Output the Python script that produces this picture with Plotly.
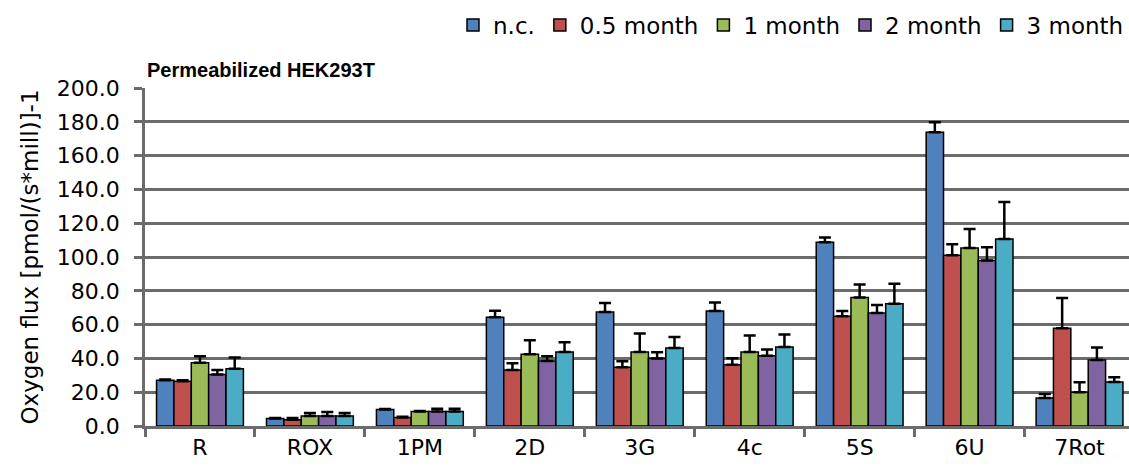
import plotly.graph_objects as go

categories = ["R", "ROX", "1PM", "2D", "3G", "4c", "5S", "6U", "7Rot"]
series_names = ["n.c.", "0.5 month", "1 month", "2 month", "3 month"]

nc = [27.1, 4.4, 9.7, 64.3, 67.5, 68.1, 108.8, 173.8, 16.6]
nc_err = [0.4, 0.4, 0.4, 3.9, 5.3, 5.0, 2.8, 5.9, 2.4]
m05 = [26.5, 3.7, 5.1, 33.2, 34.7, 36.2, 64.9, 101.1, 57.8]
m05_err = [0.5, 1.1, 0.4, 3.9, 3.6, 3.9, 3.1, 6.5, 17.9]
m1 = [37.5, 5.9, 8.6, 42.4, 43.8, 43.8, 76.1, 105.3, 20.0]
m1_err = [3.8, 1.8, 0.3, 8.3, 10.9, 9.7, 7.7, 11.2, 5.9]
m2 = [30.5, 5.9, 8.6, 38.5, 39.9, 41.5, 66.9, 98.0, 39.1]
m2_err = [2.7, 2.4, 1.6, 2.7, 3.7, 3.7, 4.7, 7.7, 7.3]
m3 = [33.9, 5.9, 8.6, 43.8, 46.2, 46.8, 72.4, 110.6, 26.1]
m3_err = [6.7, 1.8, 1.6, 5.7, 6.5, 7.3, 11.8, 22.0, 2.7]

colors = ["#4F81BD", "#C0504D", "#9BBB59", "#8064A2", "#4BACC6"]
values = [nc, m05, m1, m2, m3]
errors = [nc_err, m05_err, m1_err, m2_err, m3_err]

fig = go.Figure()
for name, vals, errs, col in zip(series_names, values, errors, colors):
    fig.add_trace(go.Bar(
        x=categories, y=vals, name=name,
        marker=dict(color=col, line=dict(color="black", width=1.5)),
        error_y=dict(type="data", array=errs, arrayminus=[0] * len(errs),
                     symmetric=False, color="black", thickness=2.5, width=6),
    ))

grid_col = "#6b6b6b"
fig.update_layout(
    width=1129, height=468,
    margin=dict(l=145, r=0, t=88, b=42, autoexpand=False),
    paper_bgcolor="white", plot_bgcolor="white",
    font=dict(family="DejaVu Sans", size=22, color="black"),
    barmode="group", bargap=0.21, bargroupgap=0,
    showlegend=True,
    legend=dict(orientation="h", x=1, xanchor="right", y=1.25, yanchor="top",
                font=dict(size=23), itemwidth=30, bgcolor="rgba(0,0,0,0)"),
    xaxis=dict(range=[-0.5, 8.45], showline=True, linecolor=grid_col, linewidth=2.5,
               ticks="outside", tickson="boundaries", ticklen=8, tickwidth=2.5,
               tickcolor=grid_col, showgrid=False, tickfont=dict(size=22)),
    yaxis=dict(range=[0, 200], dtick=20, tickformat=".1f", showline=True,
               linecolor=grid_col, linewidth=2.5, ticks="outside", ticklen=8,
               tickwidth=2.5, tickcolor=grid_col, showgrid=True, gridcolor=grid_col,
               gridwidth=2.5, zeroline=False, tickfont=dict(size=22),
               ticklabelstandoff=10,
               title=dict(text="Oxygen flux [pmol/(s*mill)]-1", font=dict(size=23),
                          standoff=12)),
)
fig.add_annotation(text="<b>Permeabilized HEK293T</b>", xref="paper", yref="paper",
                   x=0, y=1.052, xanchor="left", yanchor="middle", showarrow=False,
                   font=dict(family="Liberation Sans", size=20, color="black"))

fig.write_html("out.html", config={"displayModeBar": False},
               post_script="document.body.style.margin='0';")
